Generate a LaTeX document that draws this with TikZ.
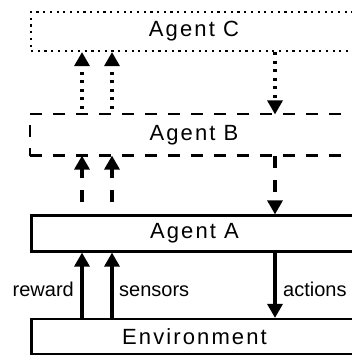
\documentclass[tikz,border=0pt]{standalone}
\usepackage{fontspec}
\setmainfont{Liberation Sans}
\newfontfamily\boxfont[LetterSpace=9.6]{Liberation Sans}
\usetikzlibrary{arrows.meta}
\begin{document}
\begin{tikzpicture}[x=1pt,y=-1pt,
  layer/.style={minimum width=326pt, inner sep=0pt, line width=2.2pt,
    font=\boxfont\fontsize{22pt}{26pt}\selectfont},
  dottedbox/.style={layer, draw, dash pattern=on 2.2pt off 4.5pt},
  solidbox/.style={layer, draw},
  dashedside/.style={line width=2.2pt, dash pattern=on 12pt off 11pt},
  flow/.style={line width=3.2pt, -{Triangle[length=14pt,width=15pt]}},
  dottedflow/.style={flow, dash pattern=on 3pt off 5.5pt},
  dashedflow/.style={flow, dash pattern=on 12pt off 12pt},
  lbl/.style={inner sep=0pt, font=\fontsize{20pt}{24pt}\selectfont}]
\useasboundingbox (0,0) rectangle (352,355);
\clip (0,0) rectangle (352,355);

% the agent hierarchy, top to bottom
\node[dottedbox, minimum height=39pt] (C) at (194,31.5) {Agent C};
\node[layer, minimum height=39pt] (B) at (194,135) {Agent B};
\node[solidbox, minimum height=36pt] (A) at (194.5,233.5) {Agent A};
\node[solidbox, minimum height=35pt] (E) at (194.5,336.5) {Environment};

% dashed frame of agent B, each side dashed from its left or upper end
\draw[dashedside] (B.north west) -- (B.north east);
\draw[dashedside] (B.south west) -- (B.south east);
\draw[dashedside, dash phase=12pt] (B.north west) -- (B.south west);
\draw[dashedside, dash phase=12pt] (B.north east) -- (B.south east);

% columns of the connectors
\coordinate (xr) at (82,0);
\coordinate (xs) at (112,0);
\coordinate (xa) at (275,0);

% environment <-> agent A
\draw[flow] (E.north -| xr) -- (A.south -| xr);
\draw[flow] (E.north -| xs) -- (A.south -| xs);
\draw[flow] (A.south -| xa) -- (E.north -| xa);

% agent A <-> agent B
\draw[dashedflow, dash phase=12pt] (A.north -| xr) -- (B.south -| xr);
\draw[dashedflow, dash phase=12pt] (A.north -| xs) -- (B.south -| xs);
\draw[dashedflow] (B.south -| xa) -- (A.north -| xa);

% agent B <-> agent C
\draw[dottedflow, dash phase=3pt] (B.north -| xr) -- (C.south -| xr);
\draw[dottedflow, dash phase=3pt] (B.north -| xs) -- (C.south -| xs);
\draw[dottedflow] (C.south -| xa) -- (B.north -| xa);

% labels of the bottom connectors
\node[lbl, anchor=base east] (lrew) at (74,296.7) {reward};
\node[lbl, anchor=base west] (lsen) at (119,296.7) {sensors};
\node[lbl, anchor=base west] (lact) at (283,296.7) {actions};
\end{tikzpicture}
\end{document}
